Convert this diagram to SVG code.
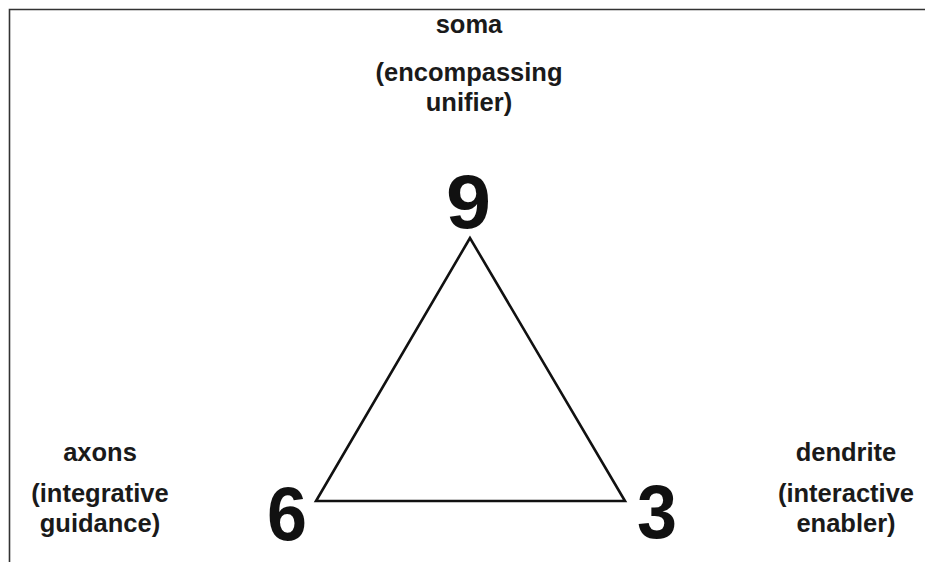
<svg xmlns="http://www.w3.org/2000/svg" width="925" height="562" viewBox="0 0 925 562">
<style>
.lbl{font-family:"Liberation Sans",Arial,sans-serif;font-weight:bold;font-size:25.5px;fill:#1a1a1a;text-anchor:middle}
.num{font-family:"Liberation Sans",Arial,sans-serif;font-weight:bold;font-size:76px;fill:#111}
.edge{fill:none;stroke:#111;stroke-width:2.6;stroke-linejoin:miter}
</style>
<rect width="925" height="562" fill="#fff"/>
<path d="M9.5 562 V9.5 H925" fill="none" stroke="#333" stroke-width="1.6"/>
<g id="connectors">
<polygon class="edge" points="470,238 316,501 625,501"/>
</g>
<g id="soma">
<text class="lbl" x="469" y="33">soma</text>
<text class="lbl" x="469" y="81">(encompassing</text>
<text class="lbl" x="469" y="111">unifier)</text>
<text class="num" x="446" y="228" textLength="45" lengthAdjust="spacingAndGlyphs">9</text>
</g>
<g id="axons">
<text class="lbl" x="100" y="461">axons</text>
<text class="lbl" x="100" y="502">(integrative</text>
<text class="lbl" x="100" y="532">guidance)</text>
<text class="num" x="267" y="540" textLength="40" lengthAdjust="spacingAndGlyphs">6</text>
</g>
<g id="dendrite">
<text class="lbl" x="846" y="461">dendrite</text>
<text class="lbl" x="846" y="502">(interactive</text>
<text class="lbl" x="846" y="532">enabler)</text>
<text class="num" x="637" y="538" textLength="40" lengthAdjust="spacingAndGlyphs">3</text>
</g>
</svg>
